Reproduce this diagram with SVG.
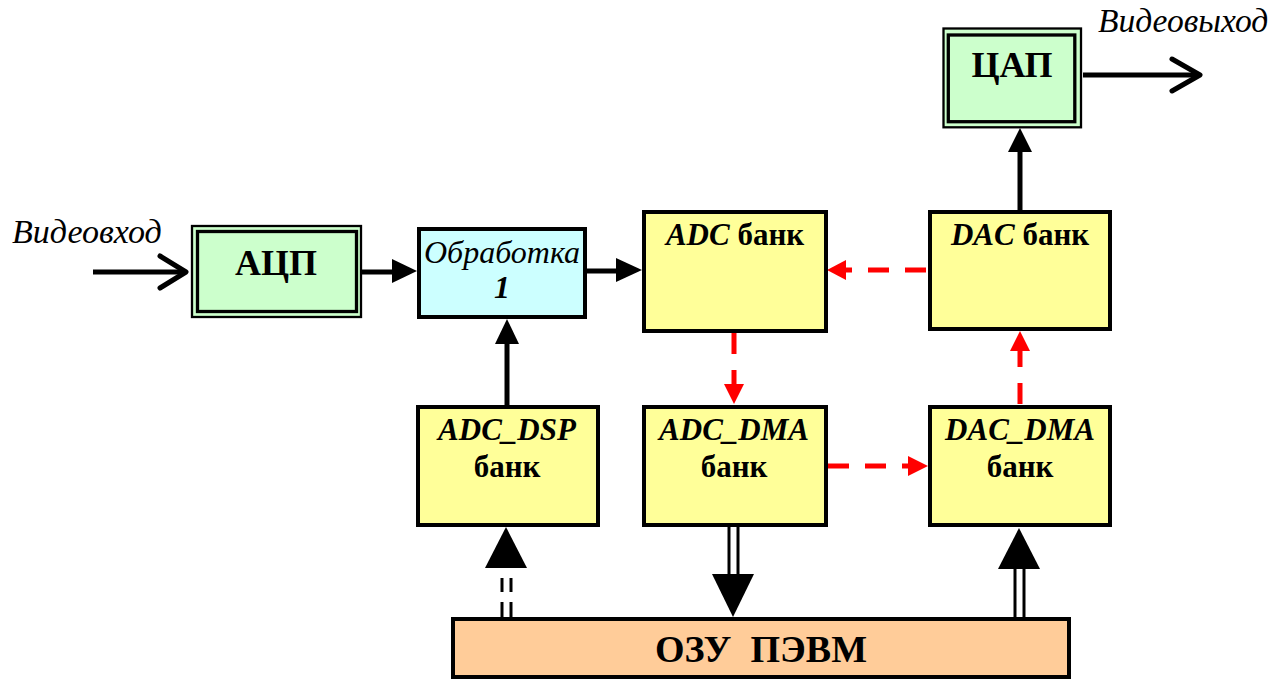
<svg xmlns="http://www.w3.org/2000/svg" width="1287" height="680" viewBox="0 0 1287 680">
<style>
.box{stroke:#000;stroke-width:4}
.yel{fill:#FFFF99}
text{fill:#000;font-family:'Liberation Serif','Times New Roman',serif}
.b{font-weight:bold}
.i{font-style:italic}
.blk{stroke:#000;stroke-width:5;fill:none}
.red{stroke:#FF0000;stroke-width:5;fill:none;stroke-dasharray:21 16}
.dbl{stroke:#000;stroke-width:3;fill:none}
</style>
<rect width="1287" height="680" fill="#fff"/>
<g id="connectors">
  <line class="blk" x1="93" y1="272" x2="186" y2="272"/>
  <polyline class="blk" points="160,256 186,272 160,288" stroke-linecap="round" stroke-linejoin="round"/>
  <line class="blk" x1="362" y1="272" x2="396" y2="272"/>
  <polygon points="417,271 392,259 392,283" fill="#000"/>
  <line class="blk" x1="587" y1="271" x2="620" y2="271"/>
  <polygon points="642,270 616,258 616,282" fill="#000"/>
  <line class="blk" x1="507" y1="405" x2="507" y2="340"/>
  <polygon points="507,319 495,344 519,344" fill="#000"/>
  <line class="blk" x1="1020" y1="210" x2="1020" y2="148"/>
  <polygon points="1020,128 1008,152 1032,152" fill="#000"/>
  <line class="blk" x1="1083" y1="75" x2="1199" y2="75"/>
  <polyline class="blk" points="1172,59 1200,75 1172,91" stroke-linecap="round" stroke-linejoin="round"/>
  <line class="red" x1="926" y1="270" x2="845" y2="270"/>
  <polygon points="827,270 846,260 846,280" fill="#FF0000"/>
  <line class="red" x1="734" y1="333" x2="734" y2="386"/>
  <polygon points="734,404 724,384 744,384" fill="#FF0000"/>
  <line class="red" x1="828" y1="466" x2="910" y2="466"/>
  <polygon points="928,466 908,456 908,476" fill="#FF0000"/>
  <line class="red" x1="1020" y1="404" x2="1020" y2="350"/>
  <polygon points="1020,331 1010,351 1030,351" fill="#FF0000"/>
  <polygon points="506,527 485,568 527,568" fill="#000"/>
  <line class="dbl" x1="502" y1="578" x2="502" y2="592"/>
  <line class="dbl" x1="511" y1="578" x2="511" y2="592"/>
  <line class="dbl" x1="502" y1="602" x2="502" y2="618"/>
  <line class="dbl" x1="511" y1="602" x2="511" y2="618"/>
  <line class="dbl" x1="729" y1="527" x2="729" y2="576"/>
  <line class="dbl" x1="738" y1="527" x2="738" y2="576"/>
  <polygon points="733,617 712,574 754,574" fill="#000"/>
  <line class="dbl" x1="1015" y1="566" x2="1015" y2="618"/>
  <line class="dbl" x1="1024" y1="566" x2="1024" y2="618"/>
  <polygon points="1019,528 998,569 1040,569" fill="#000"/>
</g>
<g id="label-videoin">
  <text class="i" x="12" y="243" font-size="34">Видеовход</text>
</g>
<g id="label-videoout">
  <text class="i" x="1098" y="32" font-size="33.5">Видеовыход</text>
</g>
<g id="acp">
  <rect x="192" y="226" width="169" height="91" fill="#CCFFCC" stroke="#000" stroke-width="2.3"/>
  <rect x="197.5" y="231.5" width="159" height="80" fill="none" stroke="#000" stroke-width="3.3"/>
  <text class="b" x="276" y="275" font-size="36" text-anchor="middle">АЦП</text>
</g>
<g id="cap">
  <rect x="943.5" y="28.5" width="137.5" height="98.8" fill="#CCFFCC" stroke="#000" stroke-width="2.3"/>
  <rect x="948.3" y="35" width="126.5" height="86.7" fill="none" stroke="#000" stroke-width="3.3"/>
  <text class="b" x="1012" y="77" font-size="36" text-anchor="middle">ЦАП</text>
</g>
<g id="obrabotka">
  <rect class="box" x="419" y="229" width="166" height="88" fill="#CCFFFF"/>
  <text class="i" x="502" y="263" font-size="32" text-anchor="middle">Обработка</text>
  <text class="i b" x="502" y="298" font-size="32" text-anchor="middle">1</text>
</g>
<g id="adc-bank">
  <rect class="box yel" x="644" y="212" width="182" height="119"/>
  <text class="b" x="735" y="245" font-size="31" text-anchor="middle"><tspan class="i">ADC</tspan> банк</text>
</g>
<g id="dac-bank">
  <rect class="box yel" x="930" y="212" width="180" height="117"/>
  <text class="b" x="1020" y="245" font-size="31" text-anchor="middle"><tspan class="i">DAC</tspan> банк</text>
</g>
<g id="adc-dsp-bank">
  <rect class="box yel" x="418" y="407" width="180" height="118"/>
  <text class="b i" x="507" y="440" font-size="31" text-anchor="middle">ADC_DSP</text>
  <text class="b" x="507" y="477" font-size="31" text-anchor="middle">банк</text>
</g>
<g id="adc-dma-bank">
  <rect class="box yel" x="644" y="407" width="182" height="118"/>
  <text class="b i" x="734" y="440" font-size="31" text-anchor="middle">ADC_DMA</text>
  <text class="b" x="734" y="477" font-size="31" text-anchor="middle">банк</text>
</g>
<g id="dac-dma-bank">
  <rect class="box yel" x="930" y="407" width="180" height="118"/>
  <text class="b i" x="1020" y="440" font-size="31" text-anchor="middle">DAC_DMA</text>
  <text class="b" x="1020" y="477" font-size="31" text-anchor="middle">банк</text>
</g>
<g id="ozu">
  <rect x="453" y="619" width="616" height="58" fill="#FFCC99" stroke="#000" stroke-width="4"/>
  <text class="b" x="761" y="662" font-size="38" text-anchor="middle" xml:space="preserve">ОЗУ  ПЭВМ</text>
</g>
</svg>
